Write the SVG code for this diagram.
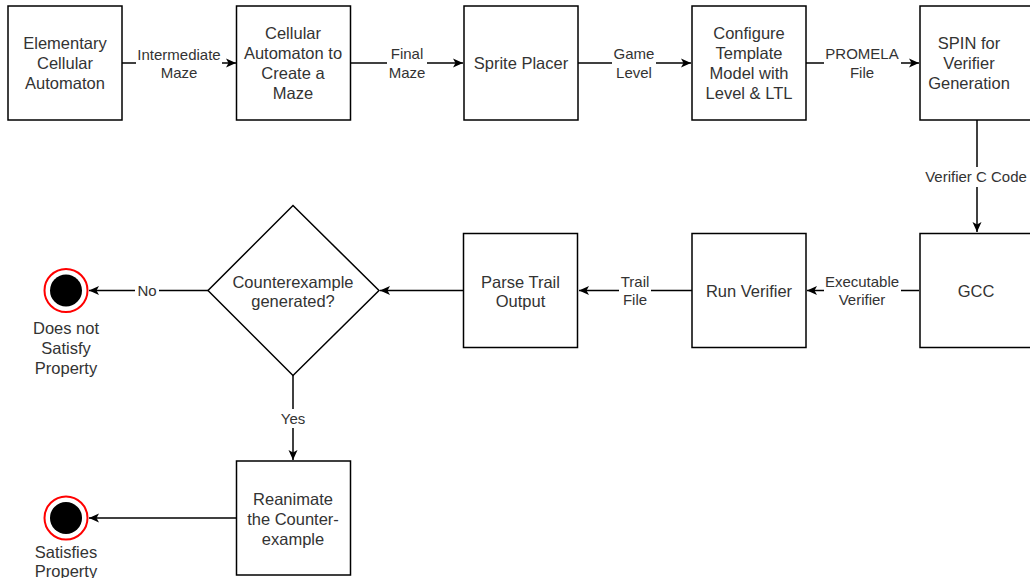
<svg xmlns="http://www.w3.org/2000/svg" width="1030" height="578" viewBox="0 0 1030 578">
<style>
.box{fill:#fff;stroke:#000;stroke-width:1.5}
.t{font-family:"Liberation Sans",Arial,sans-serif;font-size:16.5px;fill:#333;text-anchor:middle}
.l{font-family:"Liberation Sans",Arial,sans-serif;font-size:15px;fill:#333;text-anchor:middle}
.c{fill:none;stroke:#000;stroke-width:1.5}
.bg{fill:#fff}
.ring{fill:#fff;stroke:#f00;stroke-width:2}
.dot{fill:#000}
</style>
<defs>
<marker id="arr" markerUnits="userSpaceOnUse" markerWidth="12" markerHeight="12" viewBox="0 0 12 12" refX="11" refY="6" orient="auto">
<path d="M1,1.5 L11,6 L1,10.5 L3.5,6 z" fill="#000"/>
</marker>
</defs>
<rect width="1030" height="578" fill="#fff"/>
<g id="connectors">
<path class="c" d="M122,63 H236" marker-end="url(#arr)"/>
<path class="c" d="M350,63 H463" marker-end="url(#arr)"/>
<path class="c" d="M578,63 H691" marker-end="url(#arr)"/>
<path class="c" d="M806,63 H919" marker-end="url(#arr)"/>
<path class="c" d="M977,120 V232" marker-end="url(#arr)"/>
<path class="c" d="M919,290.5 H807" marker-end="url(#arr)"/>
<path class="c" d="M692,290.5 H579" marker-end="url(#arr)"/>
<path class="c" d="M463,290.5 H380" marker-end="url(#arr)"/>
<path class="c" d="M208,290.5 H89" marker-end="url(#arr)"/>
<path class="c" d="M293,375 V460" marker-end="url(#arr)"/>
<path class="c" d="M236,518 H89" marker-end="url(#arr)"/>
<rect class="bg" x="136" y="45" width="86" height="36"/>
<text class="l" x="179" y="60">Intermediate</text>
<text class="l" x="179" y="78">Maze</text>
<rect class="bg" x="387" y="45" width="40" height="36"/>
<text class="l" x="407" y="59">Final</text>
<text class="l" x="407" y="78">Maze</text>
<rect class="bg" x="612" y="45" width="44" height="36"/>
<text class="l" x="634" y="59">Game</text>
<text class="l" x="634" y="78">Level</text>
<rect class="bg" x="824" y="45" width="77" height="36"/>
<text class="l" x="862" y="59">PROMELA</text>
<text class="l" x="862" y="78">File</text>
<rect class="bg" x="924" y="167" width="106" height="20"/>
<text class="l" x="976" y="182">Verifier C Code</text>
<rect class="bg" x="824" y="272" width="77" height="37"/>
<text class="l" x="862" y="287">Executable</text>
<text class="l" x="862" y="305">Verifier</text>
<rect class="bg" x="619" y="272" width="32" height="37"/>
<text class="l" x="635" y="287">Trail</text>
<text class="l" x="635" y="305">File</text>
<rect class="bg" x="135" y="281" width="24" height="19"/>
<text class="l" x="147" y="295.5">No</text>
<rect class="bg" x="279" y="409" width="28" height="19"/>
<text class="l" x="293" y="424">Yes</text>
</g>
<g id="n1"><rect class="box" x="8" y="6" width="114" height="114"/>
<text class="t" x="65" y="49">Elementary</text><text class="t" x="65" y="69">Cellular</text><text class="t" x="65" y="89">Automaton</text></g>
<g id="n2"><rect class="box" x="236.5" y="6" width="114" height="114"/>
<text class="t" x="293" y="39">Cellular</text><text class="t" x="293" y="59">Automaton to</text><text class="t" x="293" y="79">Create a</text><text class="t" x="293" y="99">Maze</text></g>
<g id="n3"><rect class="box" x="464" y="6" width="114" height="114"/>
<text class="t" x="521" y="69">Sprite Placer</text></g>
<g id="n4"><rect class="box" x="692" y="6" width="114" height="114"/>
<text class="t" x="749" y="39">Configure</text><text class="t" x="749" y="59">Template</text><text class="t" x="749" y="79">Model with</text><text class="t" x="749" y="99">Level &amp; LTL</text></g>
<g id="n5"><rect class="box" x="920" y="6" width="114" height="114"/>
<text class="t" x="969" y="49">SPIN for</text><text class="t" x="969" y="69">Verifier</text><text class="t" x="969" y="89">Generation</text></g>
<g id="n6"><rect class="box" x="920" y="233.5" width="114" height="114"/>
<text class="t" x="976" y="296.5">GCC</text></g>
<g id="n7"><rect class="box" x="692" y="233.5" width="114" height="114"/>
<text class="t" x="749" y="296.5">Run Verifier</text></g>
<g id="n8"><rect class="box" x="463.5" y="233.5" width="114" height="114"/>
<text class="t" x="520.5" y="287.5">Parse Trail</text><text class="t" x="520.5" y="306.5">Output</text></g>
<g id="n9"><path class="box" d="M293,205.5 L379,290.5 L293,375.5 L208,290.5 z"/>
<text class="t" x="293" y="287.5">Counterexample</text><text class="t" x="293" y="306.5">generated?</text></g>
<g id="n10"><rect class="box" x="236.5" y="461" width="114" height="114"/>
<text class="t" x="293" y="504.5">Reanimate</text><text class="t" x="293" y="524.5">the Counter-</text><text class="t" x="293" y="544.5">example</text></g>
<g id="n11"><circle class="ring" cx="66" cy="290.5" r="21.5"/><circle class="dot" cx="66" cy="290.5" r="16"/>
<text class="t" x="66" y="334">Does not</text><text class="t" x="66" y="354">Satisfy</text><text class="t" x="66" y="374">Property</text></g>
<g id="n12"><circle class="ring" cx="66" cy="518" r="21.5"/><circle class="dot" cx="66" cy="518" r="16"/>
<text class="t" x="66" y="557.5">Satisfies</text><text class="t" x="66" y="577">Property</text></g>
</svg>
